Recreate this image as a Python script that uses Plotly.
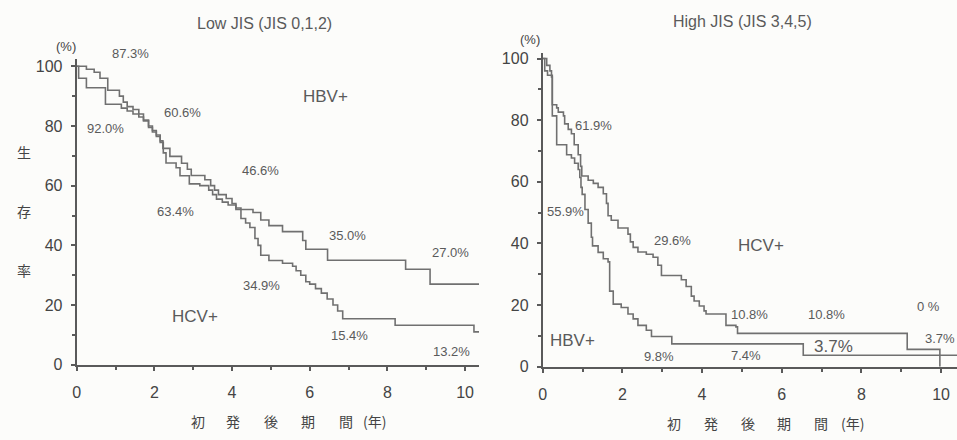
import plotly.graph_objects as go

W, H = 957, 440

# ---- survival at the labelled years (%) ----
label_years = [1, 3, 5, 7, 10]
low_hbv_pct = [87.3, 60.6, 46.6, 35.0, 27.0]
low_hcv_pct = [92.0, 63.4, 34.9, 15.4, 13.2]
high_hbv_pct = [55.9, 9.8, 7.4, 3.7, 3.7]
high_hcv_pct = [61.9, 29.6, 10.8, 10.8, 0.0]

# ---- Kaplan-Meier step curves: event time (years) and survival after it (%) ----
low_hcv_t = [0, 0.25, 0.45, 0.6, 0.8, 1.1, 1.2, 1.3, 1.45, 1.6, 1.72, 1.85, 1.95, 2.05, 2.15,
             2.22, 2.4, 2.7, 2.85, 2.95, 3.3, 3.45, 3.55, 3.65, 3.85, 4.0, 4.1, 4.23, 4.35, 4.46,
             4.59, 4.67, 4.74, 4.95, 5.3, 5.56, 5.65, 5.77, 5.9, 6.0, 6.15, 6.3, 6.45, 6.6, 6.72,
             6.85, 8.2, 10.23, 10.36]
low_hcv_s = [100, 99, 98, 96, 92.0, 90, 88, 86.5, 85.5, 84, 82, 80, 78.5, 77, 75,
             72.5, 69.8, 67.5, 65.5, 63.4, 62, 60, 58.5, 57, 55.7, 54, 52.5, 49, 47.5, 46,
             42.3, 40, 36.7, 34.9, 34, 33, 31.5, 30, 27.8, 27, 25.5, 24, 22, 20, 18,
             15.4, 13.2, 11.0, 11.0]

low_hbv_t = [0, 0.05, 0.25, 0.74, 1.15, 1.3, 1.45, 1.6, 1.72, 1.85, 1.95, 2.05, 2.15, 2.23,
             2.3, 2.56, 2.66, 2.9, 3.17, 3.4, 3.5, 3.6, 3.75, 3.9, 4.1, 4.54, 4.74, 4.95, 5.3,
             5.82, 5.9, 6.46, 8.47, 9.1, 10.36]
low_hbv_s = [100, 96, 92.8, 87.3, 86, 85, 84, 83, 81.7, 79.5, 78, 76.5, 74.5, 71,
             67.6, 66, 63.3, 60.6, 60, 58.5, 57, 55.5, 54.5, 53.5, 52, 51, 48.5, 46.6, 44.6,
             41.6, 38.7, 35.0, 32.0, 27.0, 27.0]

high_hcv_t = [0, 0.1, 0.18, 0.22, 0.24, 0.35, 0.39, 0.52, 0.55, 0.64, 0.72, 0.79, 0.89, 0.95,
              0.98, 1.14, 1.27, 1.39, 1.52, 1.6, 1.64, 1.72, 1.89, 2.14, 2.2, 2.27, 2.39, 2.6,
              2.77, 2.89, 2.98, 3.48, 3.6, 3.73, 3.8, 3.93, 4.05, 4.1, 4.6, 4.85, 4.89, 9.15,
              9.97]
high_hcv_s = [100, 97.8, 96, 94, 85, 84, 82.6, 81.4, 78.8, 77, 75.6, 72, 68.8, 65,
              61.9, 60.5, 59.5, 58.2, 56.1, 53, 49, 47.5, 45, 43, 40.5, 38.7, 37.2, 36.5,
              35.5, 32.9, 29.6, 28.2, 26, 22.9, 21.3, 19.7, 18.1, 17.1, 13.4, 12.9, 10.8, 5.6,
              0.0]

high_hbv_t = [0, 0.05, 0.12, 0.24, 0.35, 0.6, 0.72, 0.8, 0.89, 0.93, 0.96, 0.99, 1.06, 1.14,
              1.22, 1.25, 1.39, 1.52, 1.64, 1.68, 1.77, 1.97, 2.14, 2.27, 2.39, 2.6, 2.73, 3.24,
              6.54, 10.4]
high_hbv_s = [100, 96, 94.6, 81.4, 72, 68.8, 67.7, 66, 64, 61.4, 58.2, 55.9, 51, 46.6,
              42, 39.2, 37.1, 35, 34, 24.5, 20.3, 19.2, 17.1, 15.5, 13.4, 11.8, 9.8, 7.4,
              3.7, 3.7]

x_ticks = [0, 2, 4, 6, 8, 10]
y_ticks = [0, 20, 40, 60, 80, 100]
x_title_chars = ["初", "発", "後", "期", "間", "(年)"]

INK = "#5a5a5a"
TXT = "#5a5a5a"
FONT = "Liberation Sans, Arial, sans-serif"
CJK = "Noto Sans CJK JP, sans-serif"


def px(x, y):
    """pixel position -> paper coordinates"""
    return x / W, 1 - y / H


def pct(v):
    return "0 %" if v == 0 else f"{v:.1f}%"


fig = go.Figure()
line_style = dict(color="#707070", width=1.6, shape="hv")
for t, s, xa, ya in [(low_hcv_t, low_hcv_s, "x", "y"), (low_hbv_t, low_hbv_s, "x", "y"),
                     (high_hcv_t, high_hcv_s, "x2", "y2"), (high_hbv_t, high_hbv_s, "x2", "y2")]:
    fig.add_trace(go.Scatter(x=t, y=s, mode="lines", line=line_style,
                             xaxis=xa, yaxis=ya, showlegend=False, hoverinfo="skip"))

common_x = dict(tickvals=x_ticks, ticks="outside", ticklen=4, tickwidth=1.5, tickcolor=INK,
                showline=True, linecolor=INK, linewidth=2, showgrid=False, zeroline=False,
                tickfont=dict(size=16, color="#444", family=FONT), ticklabelstandoff=8,
                minor=dict(dtick=1, ticks="outside", ticklen=3, tickcolor=INK, showgrid=False))
common_y = dict(tickvals=y_ticks, ticks="outside", ticklen=4, tickwidth=1.5, tickcolor=INK,
                showline=True, linecolor=INK, linewidth=2, showgrid=False, zeroline=False,
                tickfont=dict(size=16, color="#444", family=FONT), ticklabelstandoff=5,
                minor=dict(dtick=10, ticks="outside", ticklen=3, tickcolor=INK, showgrid=False))

fig.update_layout(
    width=W, height=H, margin=dict(l=0, r=0, t=0, b=0),
    paper_bgcolor="#fcfcfa", plot_bgcolor="#fcfcfa",
    xaxis=dict(domain=[73 / W, 477 / W], range=[0, 10.36], anchor="y", **common_x),
    yaxis=dict(domain=[(H - 372) / H, (H - 58) / H], range=[0, 102.6], anchor="x", **common_y),
    xaxis2=dict(domain=[541 / W, 957 / W], range=[0, 10.4], anchor="y2", **common_x),
    yaxis2=dict(domain=[(H - 374) / H, (H - 52) / H], range=[0, 101.9], anchor="x2", **common_y),
)

ann = []


def text(x, y, s, size=13, color=TXT, family=FONT):
    xp, yp = px(x, y)
    ann.append(dict(x=xp, y=yp, xref="paper", yref="paper", text=s, showarrow=False,
                    xanchor="center", yanchor="middle",
                    font=dict(size=size, color=color, family=family)))


# panel titles and units
text(262, 22, "Low JIS (JIS 0,1,2)", size=16)
text(742, 20, "High JIS (JIS 3,4,5)", size=16)
text(62, 46, "(%)", size=13, color="#444")
text(528, 38, "(%)", size=13, color="#444")

# y-axis title (vertical characters)
for ch, yy in zip("生存率", [154, 214, 275]):
    text(20, yy, ch, size=14, color="#444", family=CJK)

# x-axis titles, widely letter-spaced
left_title_x = [195, 230, 268, 305, 343, 372]
right_title_x = [673, 710, 747, 783, 820, 852]
for ch, lx, rx in zip(x_title_chars, left_title_x, right_title_x):
    text(lx, 430, ch, size=14, color="#444", family=CJK)
    text(rx, 432, ch, size=14, color="#444", family=CJK)

# group labels
text(323, 97, "HBV+", size=17)
text(192, 323, "HCV+", size=17)
text(760, 250, "HCV+", size=17)
text(571, 347, "HBV+", size=17)

# survival-rate labels, low JIS
low_hbv_pos = [(127, 53), (179, 113), (258, 173), (345, 240), (448, 257)]
low_hcv_pos = [(102, 130), (172, 215), (259, 291), (347, 342), (449, 358)]
for v, (x, y) in zip(low_hbv_pct, low_hbv_pos):
    text(x, y, pct(v))
for v, (x, y) in zip(low_hcv_pct, low_hcv_pos):
    text(x, y, pct(v))

# survival-rate labels, high JIS
high_hcv_pos = [(592, 127), (671, 245), (749, 320), (826, 320), (928, 312)]
high_hbv_pos = [(564, 215), (658, 364), (745, 363), (833, 353), (940, 345)]
for v, (x, y) in zip(high_hcv_pct, high_hcv_pos):
    text(x, y, pct(v))
for i, (v, (x, y)) in enumerate(zip(high_hbv_pct, high_hbv_pos)):
    text(x, y, pct(v), size=17 if i == 3 else 13)

fig.update_layout(annotations=ann)
fig.write_html("out.html")
